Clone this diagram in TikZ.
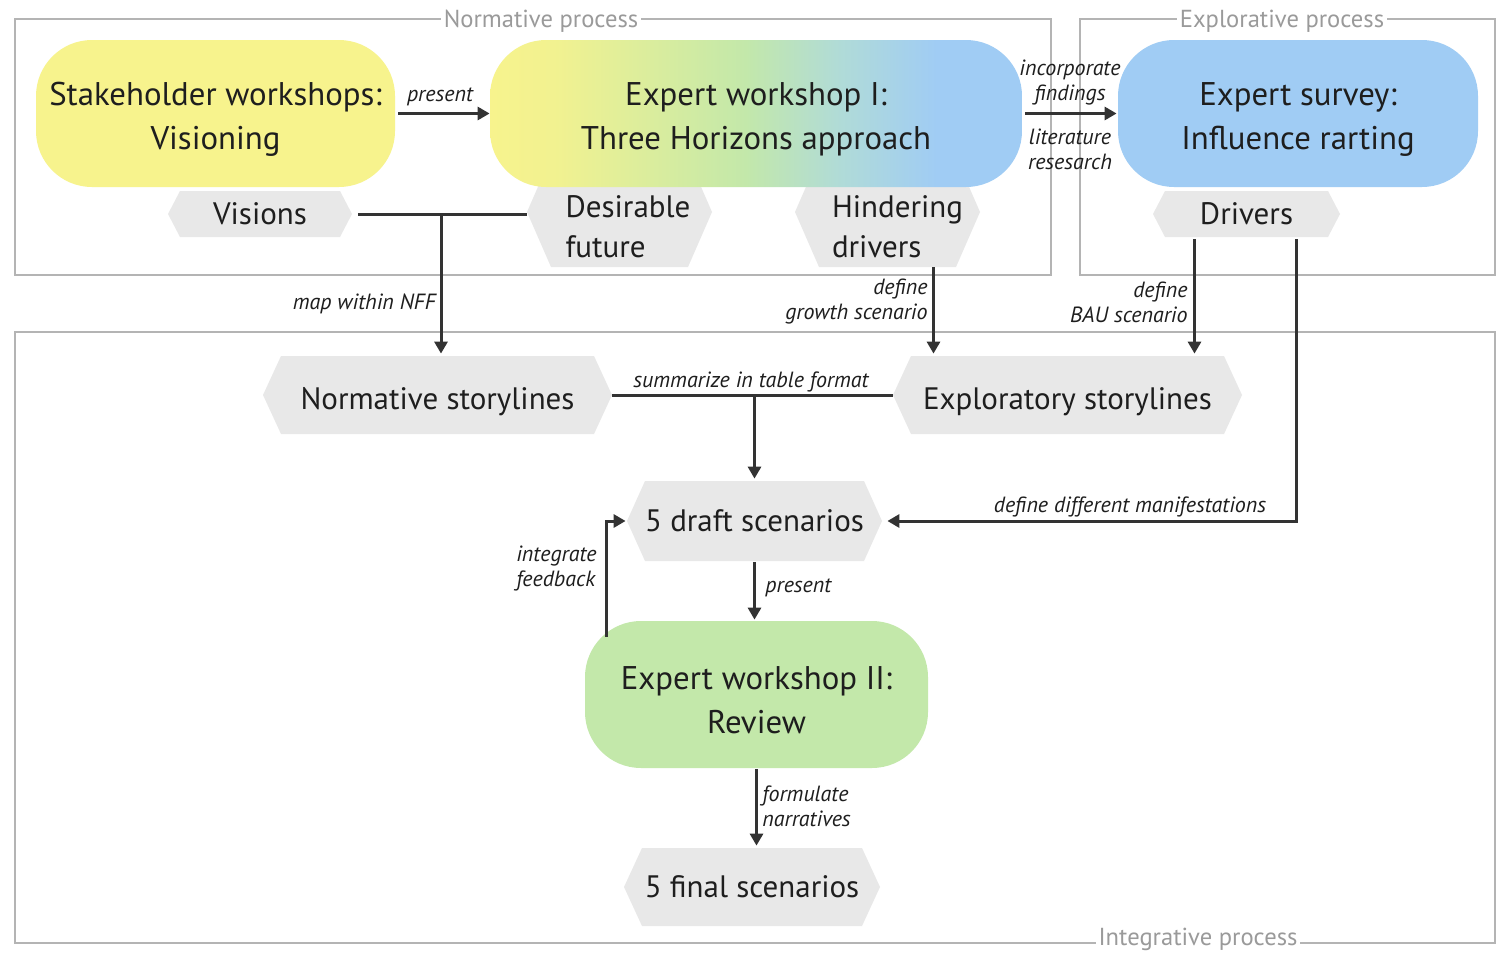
\documentclass[tikz,border=0pt]{standalone}
\usepackage{fontspec}
\setmainfont{PT Sans}
\usetikzlibrary{arrows.meta}
\definecolor{cyel}{HTML}{F7F38D}
\definecolor{cgrn}{HTML}{C3E8AA}
\definecolor{cblu}{HTML}{A0CCF4}
\definecolor{cteal}{HTML}{B0DBD8}
\definecolor{chex}{HTML}{E8E8E8}
\definecolor{txt}{HTML}{1E1E1E}
\definecolor{lin}{HTML}{333333}
\definecolor{frm}{HTML}{B4B4B4}
\definecolor{frmtxt}{HTML}{9A9A9A}
\pgfdeclarehorizontalshading{ewshade}{100bp}{color(0bp)=(cyel); color(25bp)=(cyel); color(31bp)=(cyel!90!cgrn); color(49bp)=(cgrn); color(58bp)=(cteal); color(67bp)=(cblu); color(75bp)=(cblu); color(100bp)=(cblu)}
\begin{document}
\begin{tikzpicture}[x=0.5pt,y=-0.5pt,
  box/.style={rounded corners=28pt, minimum height=73.5pt, align=center, inner sep=0pt,
    font=\fontsize{16.4}{22}\selectfont, text=txt},
  hexn/.style={inner sep=0pt, align=center, font=\fontsize{15.5}{20}\selectfont, text=txt},
  hexl/.style={inner sep=0pt, align=left, font=\fontsize{15.5}{20}\selectfont, text=txt},
  hexfill/.style={fill=chex},
  lbl/.style={inner sep=0pt, font=\fontsize{11}{12.5}\selectfont\itshape, text=txt},
  con/.style={draw=lin, line width=1.5pt},
  arr/.style={draw=lin, line width=1.5pt, -{Triangle[length=6pt,width=6.5pt]}},
  frame/.style={draw=frm, line width=0.7pt},
  flbl/.style={fill=white, text=frmtxt, inner xsep=1.5pt, inner ysep=1pt, font=\fontsize{12.3}{13}\selectfont}
]
\useasboundingbox (0,0) rectangle (1504,953);
\fill[white] (0,0) rectangle (1504,953);

% frames
\draw[frame] (15,19) rectangle (1051,275);
\draw[frame] (1080,19) rectangle (1495,275);
\draw[frame] (15,332) rectangle (1495,943);
\node[flbl] (fnorm) at (541,21) {Normative process};
\node[flbl] (fexpl) at (1282,21) {Explorative process};
\node[flbl] (finte) at (1198,939) {Integrative process};

% hexagon backgrounds
\fill[hexfill] (168,214)--(180,191)--(340,191)--(352,214)--(340,237)--(180,237)--cycle;
\fill[hexfill] (527,212)--(551,157)--(688,157)--(712,212)--(688,267)--(551,267)--cycle;
\fill[hexfill] (795,212)--(819,157)--(956,157)--(980,212)--(956,267)--(819,267)--cycle;
\fill[hexfill] (1153,214)--(1165,191)--(1328,191)--(1340,214)--(1328,237)--(1165,237)--cycle;
\fill[hexfill] (263,395)--(281,356)--(594,356)--(612,395)--(594,434)--(281,434)--cycle;
\fill[hexfill] (893,395)--(911,356)--(1224,356)--(1242,395)--(1224,434)--(911,434)--cycle;
\fill[hexfill] (627,521)--(645,481)--(864,481)--(882,521)--(864,561)--(645,561)--cycle;
\fill[hexfill] (624,887)--(642,848)--(862,848)--(880,887)--(862,926)--(642,926)--cycle;

% hexagon nodes
\node[hexn, minimum width=92pt, minimum height=23pt] (vis) at (260,214) {Visions};
\node[hexl, minimum width=92.5pt, minimum height=40pt] (des) at (620,227) {\hspace*{8pt}Desirable\\\hspace*{8pt}future};
\node[hexl, minimum width=92.5pt, minimum height=40pt] (hin) at (887.5,227) {\hspace*{10pt}Hindering\\\hspace*{10pt}drivers};
\node[hexn, minimum width=93.5pt, minimum height=23pt] (dri) at (1246.5,214) {Drivers};
\node[hexn, minimum width=174.5pt, minimum height=39pt, text height=15pt, text depth=0.1pt] (nst) at (437.5,395) {Normative storylines};
\node[hexn, minimum width=174.5pt, minimum height=39pt, text height=15pt, text depth=0.1pt] (exs) at (1067.5,395) {Exploratory storylines};
\node[hexn, minimum width=127.5pt, minimum height=40pt] (dft) at (754.5,521) {5 draft scenarios};
\node[hexn, minimum width=128pt, minimum height=39pt] (fin) at (752,887) {5 final scenarios};

% rounded boxes
\node[box, fill=cyel, minimum width=179.5pt] (stk) at (215.5,113.5) {\rule{0pt}{17.5pt}Stakeholder workshops:\\Visioning};
\node[box, shading=ewshade, minimum width=266pt] (ew1) at (756,113.5) {\rule{0pt}{17.5pt}Expert workshop I:\\Three Horizons approach};
\node[box, fill=cblu, minimum width=180pt] (sur) at (1298,113.5) {\rule{0pt}{17.5pt}Expert survey:\\Influence rarting};
\node[box, fill=cgrn, minimum width=171.5pt] (ew2) at (756.5,694.5) {\rule{0pt}{17.5pt}Expert workshop II:\\Review};

% helper coordinates
\coordinate (j1) at (441,214);
\coordinate (h1) at ([xshift=23pt]hin.south);
\coordinate (d1) at ([xshift=-26pt,yshift=-1pt]dri.south);
\coordinate (d2) at ([xshift=25pt,yshift=-1pt]dri.south);
\coordinate (f1) at ([xshift=-75pt,yshift=-8pt]ew2.north);

% connectors
\draw[arr, shorten <=1.5pt] (stk.east) -- (ew1.west);
\draw[arr, shorten <=1.5pt, shorten >=0.5pt] (ew1.east) -- (sur.west);
\draw[con, shorten <=3pt] (vis.east) -- (vis.east -| des.west);
\draw[arr, shorten >=1pt] (j1) -- (j1 |- nst.north);
\draw[arr, shorten >=1pt] (h1) -- (h1 |- exs.north);
\draw[arr, shorten >=1pt] (d1) -- (d1 |- exs.north);
\draw[arr, shorten >=2.5pt] (d2) |- (dft.east);
\draw[con] (nst.east) -- (exs.west);
\draw[arr, shorten >=1pt] (dft.north |- nst.east) -- (dft.north);
\draw[arr, shorten <=0.5pt, shorten >=0.5pt] (dft.south) -- (dft.south |- ew2.north);
\draw[arr, shorten >=0.5pt] (f1) |- (dft.west);
\draw[arr, shorten <=0.5pt, shorten >=1pt] (ew2.south) -- (ew2.south |- fin.north);

% labels
\node[lbl] (lpres1) at (440,97) {present};
\node[lbl, align=center] (linc) at (1070,83) {incorporate\\findings};
\node[lbl, align=center] (llit) at (1070,149) {literature\\resesarch};
\node[lbl, anchor=east] (lmap) at (436,304) {map within NFF};
\node[lbl, anchor=east, align=right] (lgro) at (928,302) {define\\growth scenario};
\node[lbl, anchor=east, align=right] (lbau) at (1188,302) {define\\BAU scenario};
\node[lbl] (lsum) at (751,382) {summarize in table format};
\node[lbl] (lman) at (1130,507) {define different manifestations};
\node[lbl, anchor=east, align=left] (lfee) at (597,568) {integrate\\feedback};
\node[lbl, anchor=west] (lpres2) at (765,588) {present};
\node[lbl, anchor=west, align=left] (lfor) at (762,806) {formulate\\narratives};
\end{tikzpicture}
\end{document}
